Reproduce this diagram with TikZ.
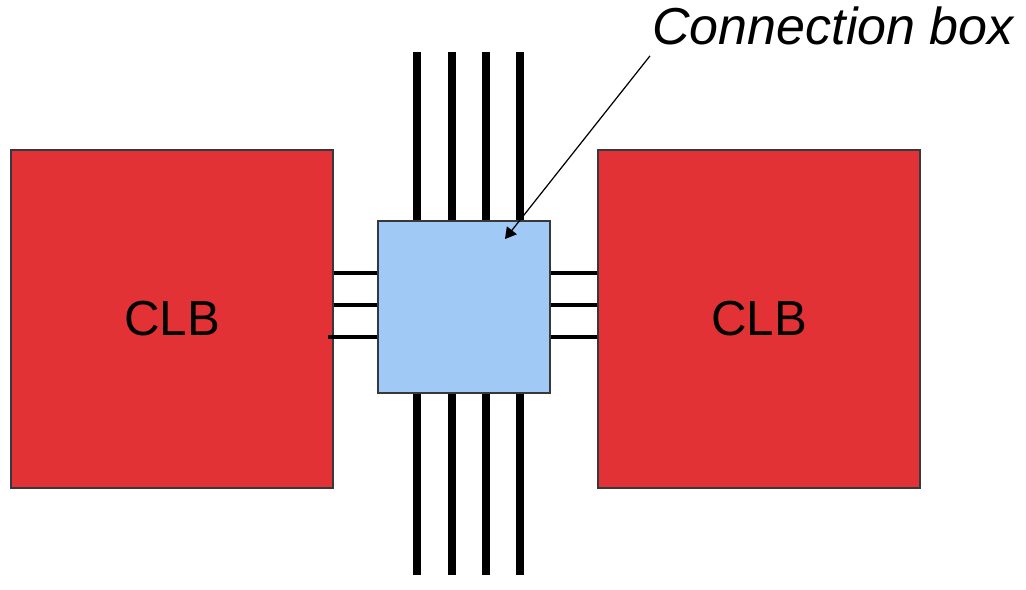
\documentclass[tikz,border=0pt]{standalone}
\usepackage{fontspec}
\setmainfont{Liberation Sans}
\usetikzlibrary{calc}
\usetikzlibrary{arrows}
\definecolor{clbred}{RGB}{227,50,54}
\definecolor{cbblue}{RGB}{160,201,246}
\definecolor{edgegray}{RGB}{55,55,60}
\begin{document}
\begin{tikzpicture}[x=0.02cm, y=-0.02cm]
	\tikzset{clb/.style = {rectangle, draw = edgegray, line width = 0.8pt, fill = clbred, minimum width = 6.44cm, minimum height = 6.76cm, font = \fontsize{28}{34}\selectfont}}
	\tikzset{track/.style = {line width = 4.4pt}}
	\tikzset{wire/.style = {line width = 2.2pt}}
	\useasboundingbox (0,0) rectangle (1026,590);

%% Tracks behind the box
\foreach \x in {417,452,486,520}{
	\draw[track] (\x,52) -- (\x,221);
	\draw[track] (\x,393) -- (\x,575);
}

%% CLB nodes
\node[clb, name = clbL] at (172,319) {CLB};
\node[clb, name = clbR] at (759,319) {CLB};

%% Connection box
\node[name = cbox, rectangle, draw = edgegray, line width = 0.8pt, fill = cbblue, minimum width = 3.44cm, minimum height = 3.44cm] at (464,307) {};

%% Wires
\foreach \y in {273,305}{
	\draw[wire] (clbL.east |- 0,\y) -- (cbox.west |- 0,\y);
	\draw[wire] (cbox.east |- 0,\y) -- (clbR.west |- 0,\y);
}
\draw[wire] (328,337) -- (cbox.west |- 0,337);
\draw[wire] (cbox.east |- 0,337) -- (clbR.west |- 0,337);

%% Label
\node[name = cblabel, anchor = base west, inner sep = 0pt, font = \fontsize{29.6}{36}\selectfont\itshape] at (652,45) {Connection box};
\draw[-triangle 60, line width = 0.7pt] ($(cblabel.south west)+(-2,10)$) -- ($(cbox.center)+(41,-68)$);

\end{tikzpicture}
\end{document}
